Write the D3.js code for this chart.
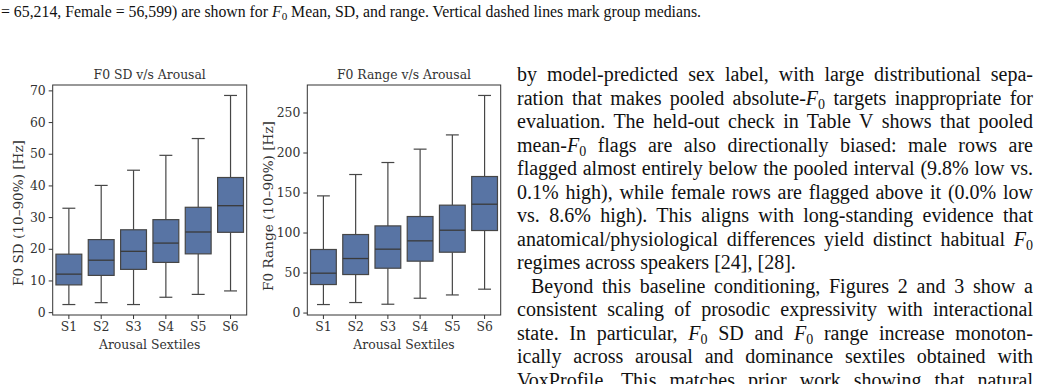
<!DOCTYPE html>
<html>
<head>
<meta charset="utf-8">
<script src="https://cdn.jsdelivr.net/npm/d3@7"></script>
<style>
  body { margin: 0; background: #fff; }
  svg { display: block; }
</style>
</head>
<body>
<svg id="page" width="1041" height="384"></svg>
<script>
const sextiles = ["S1", "S2", "S3", "S4", "S5", "S6"];

// F0 SD v/s Arousal (Hz): whisker low, Q1, median, Q3, whisker high
const sdLow = [2.4, 3.0, 2.4, 4.7, 5.6, 6.7];
const sdQ1 = [8.6, 11.6, 13.5, 15.7, 18.4, 25.2];
const sdMedian = [12.0, 16.4, 19.2, 21.8, 25.3, 33.6];
const sdQ3 = [18.3, 22.9, 26.0, 29.2, 33.1, 42.5];
const sdHigh = [32.8, 40.0, 44.8, 49.5, 54.8, 68.4];
const sdTicks = [0, 10, 20, 30, 40, 50, 60, 70];

// F0 Range v/s Arousal (Hz)
const rangeLow = [10.0, 12.5, 10.4, 17.9, 22.0, 29.2];
const rangeQ1 = [35.0, 47.5, 55.4, 64.2, 75.4, 102.5];
const rangeMedian = [49.2, 67.5, 79.2, 89.6, 102.9, 135.4];
const rangeQ3 = [78.8, 97.5, 108.3, 120.0, 134.2, 170.0];
const rangeHigh = [145.8, 172.5, 187.5, 204.2, 222.0, 271.3];
const rangeTicks = [0, 50, 100, 150, 200, 250];

const captionLine = "= 65,214, Female = 56,599) are shown for F_0 Mean, SD, and range. Vertical dashed lines mark group medians.";

const bodyLines = [
  "by model-predicted sex label, with large distributional sepa-",
  "ration that makes pooled absolute-F_0 targets inappropriate for",
  "evaluation. The held-out check in Table V shows that pooled",
  "mean-F_0 flags are also directionally biased: male rows are",
  "flagged almost entirely below the pooled interval (9.8% low vs.",
  "0.1% high), while female rows are flagged above it (0.0% low",
  "vs. 8.6% high). This aligns with long-standing evidence that",
  "anatomical/physiological differences yield distinct habitual F_0",
  "regimes across speakers [24], [28].",
  "Beyond this baseline conditioning, Figures 2 and 3 show a",
  "consistent scaling of prosodic expressivity with interactional",
  "state. In particular, F_0 SD and F_0 range increase monoton-",
  "ically across arousal and dominance sextiles obtained with",
  "VoxProfile. This matches prior work showing that natural"
];
const lastOfParagraph = [8];
const indented = [9];

const svg = d3.select("#page");
const chartFont = "'DejaVu Serif', serif";
const chartSize = "12.4px";
const ink = "#333";
const boxFill = "#5874a4";
const lineGray = "#464646";

const plotTop = 85, plotBottom = 315;

function drawBoxes(cfg) {
  const g = svg.append("g");

  const x = d3.scaleBand()
    .domain(sextiles)
    .range([cfg.left, cfg.right])
    .padding(0);

  const lo = d3.min(cfg.low), hi = d3.max(cfg.high);
  const pad = (hi - lo) * 0.05;
  const y = d3.scaleLinear()
    .domain([lo - pad, hi + pad])
    .range([plotBottom, plotTop]);

  const rows = sextiles.map((s, i) => ({
    s, low: cfg.low[i], q1: cfg.q1[i], med: cfg.median[i], q3: cfg.q3[i], high: cfg.high[i]
  }));

  const bw = x.bandwidth() * 0.8;
  const cx = d => x(d.s) + x.bandwidth() / 2;

  const box = g.selectAll("g.box")
    .data(rows)
    .join("g")
    .attr("class", "box");

  // whiskers
  box.append("line")
    .attr("x1", cx).attr("x2", cx)
    .attr("y1", d => y(d.q3)).attr("y2", d => y(d.high))
    .attr("stroke", lineGray).attr("stroke-width", 1.2);
  box.append("line")
    .attr("x1", cx).attr("x2", cx)
    .attr("y1", d => y(d.q1)).attr("y2", d => y(d.low))
    .attr("stroke", lineGray).attr("stroke-width", 1.2);

  // caps
  box.append("line")
    .attr("x1", d => cx(d) - bw / 4).attr("x2", d => cx(d) + bw / 4)
    .attr("y1", d => y(d.high)).attr("y2", d => y(d.high))
    .attr("stroke", lineGray).attr("stroke-width", 1.2);
  box.append("line")
    .attr("x1", d => cx(d) - bw / 4).attr("x2", d => cx(d) + bw / 4)
    .attr("y1", d => y(d.low)).attr("y2", d => y(d.low))
    .attr("stroke", lineGray).attr("stroke-width", 1.2);

  box.append("rect")
    .attr("x", d => cx(d) - bw / 2)
    .attr("width", bw)
    .attr("y", d => y(d.q3))
    .attr("height", d => y(d.q1) - y(d.q3))
    .attr("fill", boxFill)
    .attr("stroke", lineGray)
    .attr("stroke-width", 1.2);

  box.append("line")
    .attr("x1", d => cx(d) - bw / 2).attr("x2", d => cx(d) + bw / 2)
    .attr("y1", d => y(d.med)).attr("y2", d => y(d.med))
    .attr("stroke", "#3a3a3a").attr("stroke-width", 1.3);

  // frame
  g.append("rect")
    .attr("x", cfg.left).attr("y", plotTop)
    .attr("width", cfg.right - cfg.left)
    .attr("height", plotBottom - plotTop)
    .attr("fill", "none")
    .attr("stroke", ink)
    .attr("stroke-width", 1);

  const yAxis = g.append("g")
    .attr("transform", `translate(${cfg.left},0)`)
    .call(d3.axisLeft(y).tickValues(cfg.ticks).tickSize(4).tickPadding(3));
  const xAxis = g.append("g")
    .attr("transform", `translate(0,${plotBottom})`)
    .call(d3.axisBottom(x).tickSize(4).tickPadding(3));

  [yAxis, xAxis].forEach(a => {
    a.select(".domain").remove();
    a.selectAll(".tick line").attr("stroke", ink).attr("stroke-width", 1);
    a.selectAll(".tick text")
      .attr("fill", ink)
      .style("font-family", chartFont)
      .style("font-size", chartSize);
  });

  const mid = (cfg.left + cfg.right) / 2;
  g.append("text")
    .attr("x", mid).attr("y", 79)
    .attr("text-anchor", "middle")
    .attr("fill", ink)
    .style("font-family", chartFont).style("font-size", chartSize)
    .text(cfg.title);

  g.append("text")
    .attr("x", mid).attr("y", 349)
    .attr("text-anchor", "middle")
    .attr("fill", ink)
    .style("font-family", chartFont).style("font-size", chartSize)
    .text("Arousal Sextiles");

  g.append("text")
    .attr("transform", `translate(${cfg.ylabelX},${cfg.ylabelY}) rotate(-90)`)
    .attr("text-anchor", "middle")
    .attr("dominant-baseline", "central")
    .attr("fill", ink)
    .style("font-family", chartFont).style("font-size", "13.6px")
    .text(cfg.ylabel);
}

drawBoxes({
  left: 52.7, right: 246.7, ylabelX: 18, ylabelY: 213,
  low: sdLow, q1: sdQ1, median: sdMedian, q3: sdQ3, high: sdHigh,
  ticks: sdTicks,
  title: "F0 SD v/s Arousal",
  ylabel: "F0 SD (10–90%) [Hz]"
});

drawBoxes({
  left: 307.3, right: 500.7, ylabelX: 268, ylabelY: 206,
  low: rangeLow, q1: rangeQ1, median: rangeMedian, q3: rangeQ3, high: rangeHigh,
  ticks: rangeTicks,
  title: "F0 Range v/s Arousal",
  ylabel: "F0 Range (10–90%) [Hz]"
});

// paper text
const textFont = "'Liberation Serif', 'Times New Roman', serif";

function writeLine(str, x, y, size, target) {
  const t = svg.append("text")
    .attr("x", x).attr("y", y)
    .attr("fill", "#111")
    .style("font-family", textFont)
    .style("font-size", size + "px");
  const parts = str.split("F_0");
  parts.forEach((p, i) => {
    if (i > 0) {
      t.append("tspan").style("font-style", "italic").text("F");
      t.append("tspan").attr("dy", size * 0.2).style("font-size", (size * 0.7) + "px").text("0");
      t.append("tspan").attr("dy", -size * 0.2).text(p);
    } else {
      t.append("tspan").text(p);
    }
  });
  if (target) {
    const w = t.node().getComputedTextLength();
    const spaces = (str.match(/ /g) || []).length;
    if (spaces > 0) t.style("word-spacing", ((target - w) / spaces) + "px");
  }
  return t;
}

writeLine(captionLine, 1, 17, 15.8, null);

const colLeft = 517, colRight = 1033;
const firstBase = 81, leading = 23.5;
bodyLines.forEach((line, i) => {
  const x = indented.includes(i) ? colLeft + 14 : colLeft;
  const target = lastOfParagraph.includes(i) ? null : colRight - x;
  writeLine(line, x, firstBase + i * leading, 20, target);
});
</script>
</body>
</html>
